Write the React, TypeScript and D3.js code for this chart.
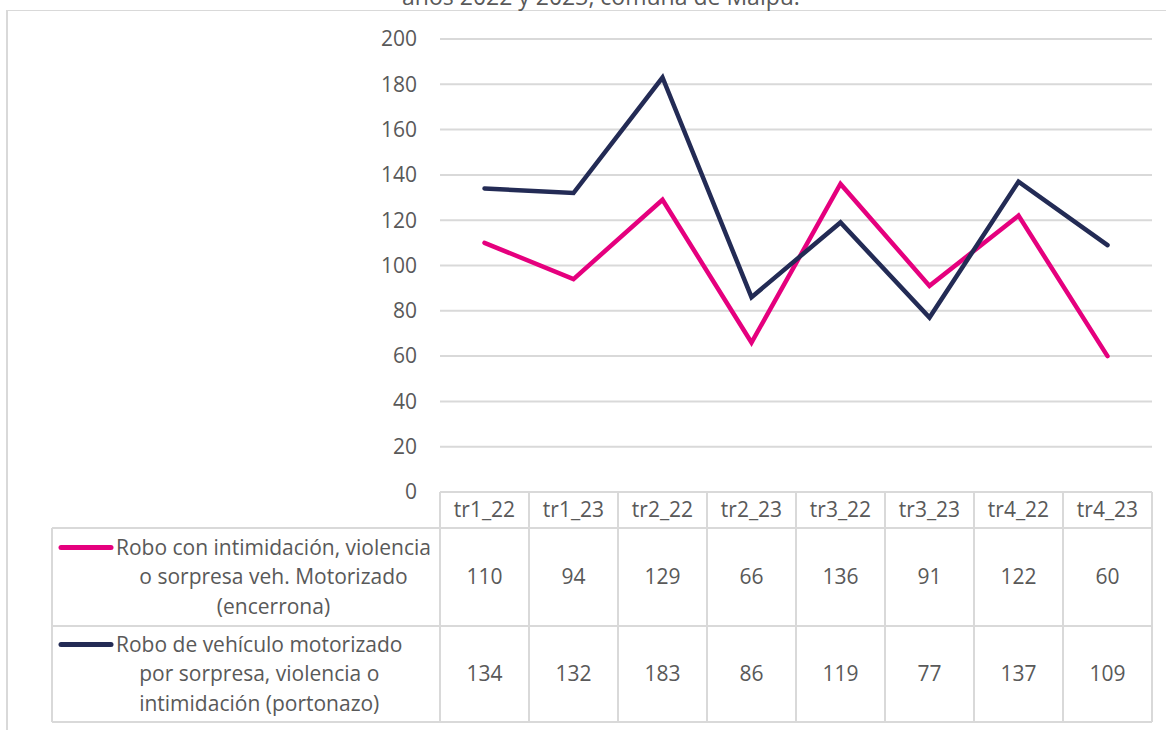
import React, { useEffect, useRef } from "react";
import * as d3 from "d3";

const categories = ["tr1_22", "tr1_23", "tr2_22", "tr2_23", "tr3_22", "tr3_23", "tr4_22", "tr4_23"];
const encerrona = [110, 94, 129, 66, 136, 91, 122, 60];
const portonazo = [134, 132, 183, 86, 119, 77, 137, 109];
const yTicks = [0, 20, 40, 60, 80, 100, 120, 140, 160, 180, 200];
const seriesNames = [
  ["Robo con intimidación, violencia", "o sorpresa veh. Motorizado", "(encerrona)"],
  ["Robo de vehículo motorizado", "por sorpresa, violencia o", "intimidación (portonazo)"],
];
const seriesColors = ["#E5007E", "#232B55"];
const titleText = "años 2022 y 2023, comuna de Maipú.";

const W = 1167;
const H = 730;
const FONT = "'Open Sans', sans-serif";
const FS = 21;
const TXT = "#595959";
const GRID = "#D9D9D9";

export default function App() {
  const ref = useRef<SVGSVGElement | null>(null);

  useEffect(() => {
    const svg = d3.select(ref.current);
    svg.selectAll("*").remove();

    const plotL = 440, plotR = 1152, plotT = 39, plotB = 492;
    const headerB = 528, row1B = 626, row2B = 722, legL = 52;

    const x = d3.scaleBand<string>().domain(categories).range([plotL, plotR]).padding(0);
    const y = d3.scaleLinear().domain([0, 200]).range([plotB, plotT]);
    const cx = (c: string) => (x(c) as number) + x.bandwidth() / 2;

    // frame
    svg.append("line").attr("x1", 7).attr("x2", 1166).attr("y1", 10.5).attr("y2", 10.5)
      .attr("stroke", GRID).attr("stroke-width", 1.2);
    svg.append("line").attr("x1", 7).attr("x2", 7).attr("y1", 10).attr("y2", H)
      .attr("stroke", GRID).attr("stroke-width", 2);

    // title (cut off at top, as in the reference)
    svg.append("text").attr("x", 601).attr("y", 5).attr("text-anchor", "middle")
      .attr("font-family", FONT).attr("font-size", 23).attr("fill", TXT).text(titleText);

    // gridlines
    svg.append("g").selectAll("line").data(yTicks.filter((t) => t > 0)).join("line")
      .attr("x1", plotL).attr("x2", plotR)
      .attr("y1", (d) => y(d)).attr("y2", (d) => y(d))
      .attr("stroke", GRID).attr("stroke-width", 2);

    // y tick labels
    svg.append("g").selectAll("text").data(yTicks).join("text")
      .attr("x", 417).attr("y", (d) => y(d)).attr("dy", "0.35em")
      .attr("text-anchor", "end").attr("font-family", FONT).attr("font-size", FS)
      .attr("fill", TXT).text((d) => String(d));

    // table grid
    const tg = svg.append("g").attr("stroke", GRID).attr("stroke-width", 2).attr("fill", "none");
    tg.append("line").attr("x1", plotL).attr("x2", plotR).attr("y1", plotB).attr("y2", plotB);
    tg.append("line").attr("x1", legL).attr("x2", plotR).attr("y1", headerB).attr("y2", headerB);
    tg.append("line").attr("x1", legL).attr("x2", plotR).attr("y1", row1B).attr("y2", row1B);
    tg.append("line").attr("x1", legL).attr("x2", plotR).attr("y1", row2B).attr("y2", row2B);
    tg.append("line").attr("x1", legL).attr("x2", legL).attr("y1", headerB).attr("y2", row2B);
    const vx = categories.map((c) => x(c) as number).concat([plotR]);
    tg.selectAll("line.v").data(vx).join("line").attr("class", "v")
      .attr("x1", (d) => d).attr("x2", (d) => d).attr("y1", plotB).attr("y2", row2B);

    // header labels
    svg.append("g").selectAll("text").data(categories).join("text")
      .attr("x", (d) => cx(d)).attr("y", (plotB + headerB) / 2).attr("dy", "0.35em")
      .attr("text-anchor", "middle").attr("font-family", FONT).attr("font-size", FS)
      .attr("fill", TXT).text((d) => d);

    // value cells
    const rows = [encerrona, portonazo];
    const rowMid = [(headerB + row1B) / 2, (row1B + row2B) / 2];
    rows.forEach((vals, r) => {
      svg.append("g").selectAll("text").data(vals).join("text")
        .attr("x", (_d, i) => cx(categories[i])).attr("y", rowMid[r]).attr("dy", "0.35em")
        .attr("text-anchor", "middle").attr("font-family", FONT).attr("font-size", FS)
        .attr("fill", TXT).text((d) => String(d));
    });

    // legend cells
    seriesNames.forEach((lines, r) => {
      const g = svg.append("g");
      const lineY = rowMid[r] - 29.5;
      g.append("line").attr("x1", 61).attr("x2", 111).attr("y1", lineY).attr("y2", lineY)
        .attr("stroke", seriesColors[r]).attr("stroke-width", 5).attr("stroke-linecap", "round");
      const texts = g.selectAll("text").data(lines).join("text")
        .attr("y", (_d, i) => rowMid[r] + (i - 1) * 29.5).attr("dy", "0.35em")
        .attr("text-anchor", "middle").attr("font-family", FONT).attr("font-size", FS)
        .attr("fill", TXT).text((d) => d);
      let maxW = 0;
      texts.each(function () {
        const w = (this as SVGTextElement).getComputedTextLength();
        if (w > maxW) maxW = w;
      });
      texts.attr("x", 116 + maxW / 2);
    });

    // series lines
    const lineGen = d3.line<number>()
      .x((_d, i) => cx(categories[i]))
      .y((d) => y(d));
    [encerrona, portonazo].forEach((vals, r) => {
      svg.append("path").datum(vals).attr("d", lineGen)
        .attr("fill", "none").attr("stroke", seriesColors[r]).attr("stroke-width", 4.5)
        .attr("stroke-linejoin", "miter").attr("stroke-miterlimit", 4).attr("stroke-linecap", "round");
    });
  }, []);

  return (
    <div style={{ position: "fixed", left: 0, top: 0, width: W, height: H, background: "#fff" }}>
      <svg ref={ref} width={W} height={H} style={{ display: "block" }} />
    </div>
  );
}
